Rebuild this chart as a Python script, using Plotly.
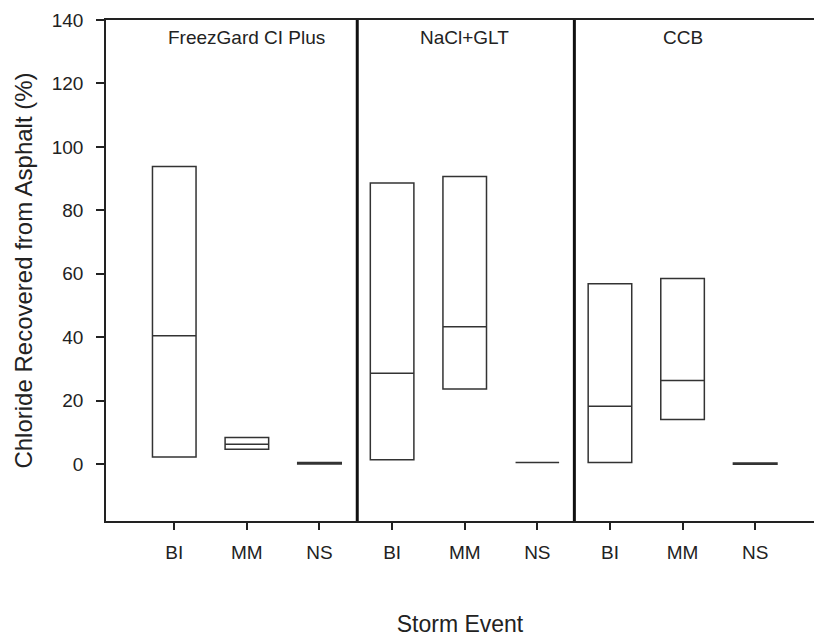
import plotly.graph_objects as go

# Deicer products and storm events (BI, MM, NS for each product)
products = ["FreezGard CI Plus", "NaCl+GLT", "CCB"]
events = ["BI", "MM", "NS"]

# Chloride recovered from asphalt (%): quartiles per product/event
q1 = [2.3, 4.7, 0.1, 1.4, 23.7, 0.5, 0.5, 14.1, 0.0]
median = [40.5, 6.3, 0.3, 28.7, 43.3, 0.5, 18.3, 26.4, 0.2]
q3 = [93.8, 8.4, 0.5, 88.6, 90.7, 0.5, 56.9, 58.5, 0.4]

positions = list(range(len(products) * len(events)))
tick_labels = events * len(products)
group_centers = [1, 4, 7]
dividers = [2.52, 5.51]

FONT = "Liberation Sans, Arial, sans-serif"
INK = "#222222"

fig = go.Figure()
fig.add_trace(go.Box(
    x=positions,
    q1=q1,
    median=median,
    q3=q3,
    lowerfence=q1,
    upperfence=q3,
    width=0.6,
    whiskerwidth=0,
    fillcolor="rgba(255,255,255,0)",
    line=dict(color="#333333", width=1.5),
    boxpoints=False,
    hoverinfo="skip",
    showlegend=False,
))

for xd in dividers:
    fig.add_shape(type="line", xref="x", yref="paper", x0=xd, x1=xd, y0=0, y1=1,
                  line=dict(color="#111111", width=3))

for xc, name in zip(group_centers, products):
    fig.add_annotation(x=xc, y=0.965, xref="x", yref="paper", text=name,
                       showarrow=False, yanchor="middle", xanchor="center",
                       font=dict(family=FONT, size=19, color=INK))

fig.update_layout(
    width=814, height=637,
    margin=dict(l=106, r=0, t=20, b=114),
    paper_bgcolor="white", plot_bgcolor="white",
    font=dict(family=FONT, color=INK),
    xaxis=dict(
        range=[-0.94, 8.81],
        tickmode="array", tickvals=positions, ticktext=tick_labels,
        ticks="outside", ticklen=7, tickwidth=1.5, tickcolor=INK,
        showline=True, linecolor=INK, linewidth=1.5, mirror=True,
        showgrid=False, zeroline=False,
        ticklabelstandoff=6,
        tickfont=dict(family=FONT, size=19, color=INK),
        title=dict(text="Storm Event", font=dict(family=FONT, size=23, color=INK),
                   standoff=58),
    ),
    yaxis=dict(
        range=[-17.9, 140],
        tickmode="array", tickvals=list(range(0, 141, 20)),
        ticks="outside", ticklen=8, tickwidth=1.5, tickcolor=INK,
        showline=True, linecolor=INK, linewidth=1.5,
        showgrid=False, zeroline=False,
        ticklabelstandoff=9,
        tickfont=dict(family=FONT, size=19, color=INK),
        title=dict(text="Chloride Recovered from Asphalt (%)",
                   font=dict(family=FONT, size=24, color=INK), standoff=12),
    ),
)

fig.write_html("out.html")
